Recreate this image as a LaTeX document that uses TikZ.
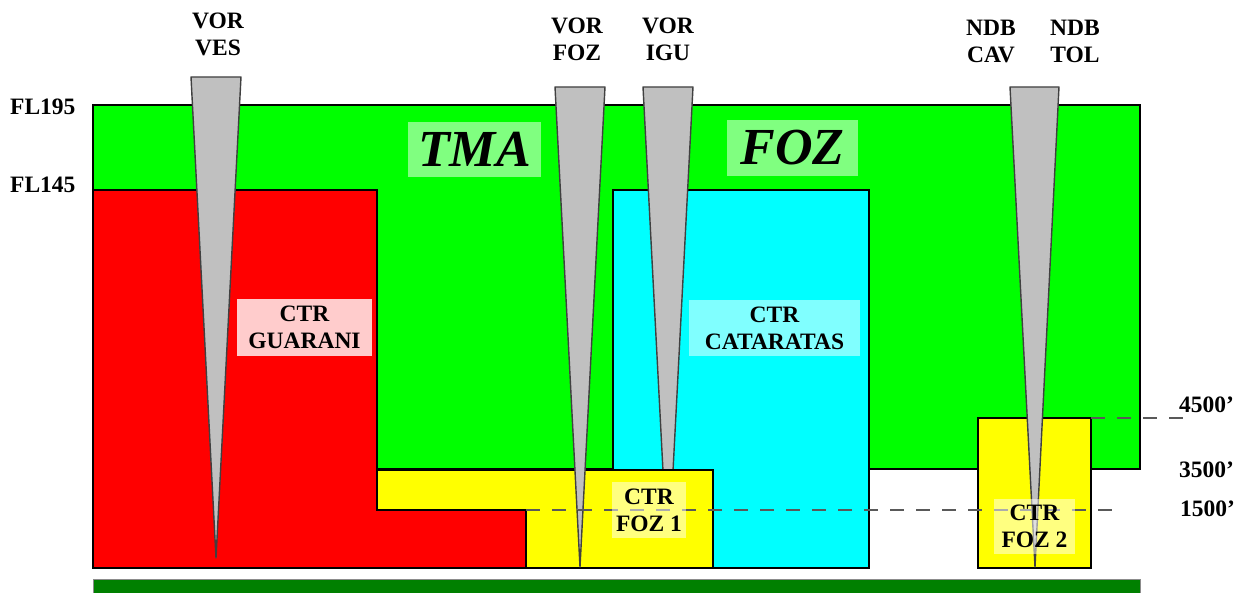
\documentclass[tikz,border=0pt]{standalone}
\usepackage{fontspec}
\setmainfont{Liberation Serif}
\usepackage{xcolor}
\usetikzlibrary{positioning}

\definecolor{tmagreen}{RGB}{0,255,0}
\definecolor{ctrred}{RGB}{255,0,0}
\definecolor{ctrcyan}{RGB}{0,255,255}
\definecolor{ctryellow}{RGB}{255,255,0}
\definecolor{conegray}{RGB}{192,192,192}
\definecolor{ground}{RGB}{0,128,0}

\begin{document}
\begin{tikzpicture}[
    x=1pt, y=-1pt,
    font=\bfseries\fontsize{23.5}{27}\selectfont,
    zone/.style={draw=black, line width=1.6pt},
    cone/.style={draw=black!75, fill=conegray, line width=1.4pt, line join=round},
    tag/.style={fill=white, fill opacity=0.5, text opacity=1, align=center, inner sep=0pt},
    bigtag/.style={tag, font=\bfseries\itshape\fontsize{52}{60}\selectfont},
    beacon/.style={align=center, anchor=north, inner sep=0pt},
    level/.style={anchor=base west, inner sep=0pt},
    limit/.style={dash pattern=on 14pt off 12pt, draw=black!65, line width=1.2pt},
]
\useasboundingbox (0,0) rectangle (1248,593);

% airspace blocks
\draw[zone, fill=tmagreen] (93,105) rectangle (1140,469);
\draw[zone, fill=ctrred] (93,190) -- (377,190) -- (377,510) -- (526,510)
    -- (526,568) -- (93,568) -- cycle;
\draw[zone, fill=ctrcyan] (613,190) rectangle (869,568);
\draw[cone] (643,87) -- (693,87) -- (668,567) -- cycle;
\draw[zone, fill=ctryellow] (377,470) -- (713,470) -- (713,568) -- (526,568)
    -- (526,510) -- (377,510) -- cycle;
\draw[zone, fill=ctryellow] (978,418) rectangle (1091,568);
\draw[draw=black!45, line width=1pt, fill=ground] (93,579) rectangle (1140,600);

% beacon cones
\draw[cone] (191,77) -- (241,77) -- (216,558) -- cycle;
\draw[cone] (555,87) -- (605,87) -- (580,567) -- cycle;
\draw[cone] (1010,87) -- (1059,87) -- (1035,567) -- cycle;

% altitude limits
\coordinate (low1) at (526,510);
\coordinate (low2) at (1118,510);
\coordinate (high1) at (1091,418);
\coordinate (high2) at (1192,418);
\draw[limit] (low1) -- (low2);
\draw[limit] (high1) -- (high2);

% area names
\node[bigtag, minimum width=133pt, minimum height=55pt] (tma) at (474.5,149.5) {TMA};
\node[bigtag, minimum width=131pt, minimum height=56pt] (tmafoz) at (792.5,148) {FOZ};
\node[tag, fill opacity=0.8, minimum width=135pt, minimum height=57pt] (guarani) at (304.5,327.5) {CTR\\GUARANI};
\node[tag, minimum width=171pt, minimum height=56pt] (cataratas) at (774.5,328) {CTR\\CATARATAS};
\node[tag, minimum width=74pt, minimum height=56pt] (foz1) at (649,510) {CTR\\FOZ 1};
\node[tag, minimum width=81pt, minimum height=55pt] (foz2) at (1034.5,526.5) {CTR\\FOZ 2};

% beacons
\node[beacon] (ves) at (218,13) {VOR\\VES};
\node[beacon] (voz) at (577,18) {VOR\\FOZ};
\node[beacon] (igu) at (668,18) {VOR\\IGU};
\node[beacon] (cav) at (991,20) {NDB\\CAV};
\node[beacon] (tol) at (1075,20) {NDB\\TOL};

% levels
\node[level] (fl195) at (10,115) {FL195};
\node[level] (fl145) at (10,193) {FL145};
\node[level] (ft4500) at (1179,413) {4500’};
\node[level] (ft3500) at (1179,477) {3500’};
\node[level] (ft1500) at (1180,516) {1500’};

\end{tikzpicture}
\end{document}
